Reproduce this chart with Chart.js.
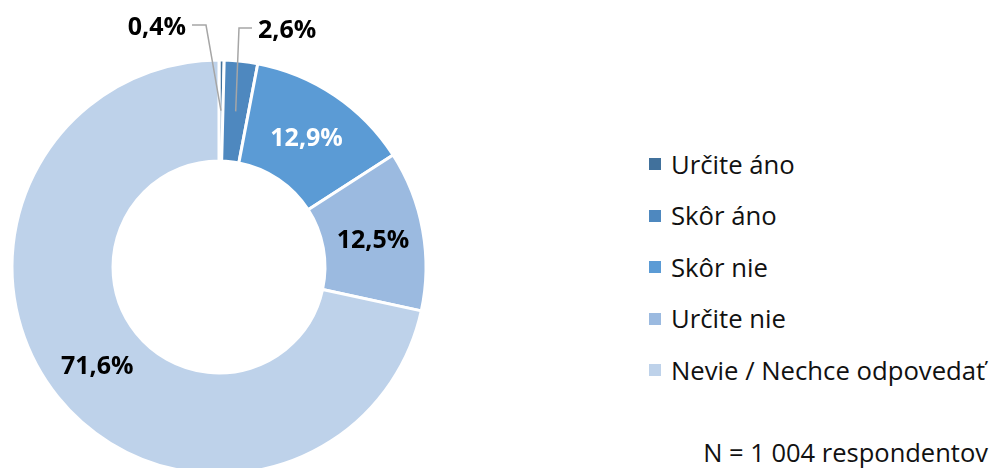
<!DOCTYPE html>
<html>
<head>
<meta charset="utf-8">
<script src="https://cdn.jsdelivr.net/npm/chart.js@4/dist/chart.umd.min.js"></script>
<style>
  html, body { margin: 0; padding: 0; background: #fff; }
  #wrap { position: relative; width: 992px; height: 468px; overflow: hidden; font-family: 'Open Sans', sans-serif; }
  #pie { position: absolute; left: 0; top: 0; }
  .leg-row { position: absolute; left: 649px; height: 34px; display: flex; align-items: center; font-size: 25.7px; color: #111; white-space: nowrap; }
  .leg-box { width: 12px; height: 12px; margin-right: 10px; flex: none; }
  #note { position: absolute; right: 4px; top: 435px; font-size: 25.5px; color: #111; white-space: nowrap; }
</style>
</head>
<body>
<div id="wrap">
  <canvas id="pie" width="438" height="534"></canvas>
  <div id="legend"></div>
  <div id="note">N = 1 004 respondentov</div>
</div>
<script>
// ─── DATA ─────────────────────────────────────────────────────
const categories  = ['Určite áno', 'Skôr áno', 'Skôr nie', 'Určite nie', 'Nevie / Nechce odpovedať'];
const shares      = [0.4, 2.6, 12.9, 12.5, 71.6];
const sliceColors = ['#41719c', '#4e88bf', '#5b9bd5', '#9bbae0', '#bed2ea'];
const labelColors = ['#000', '#000', '#fff', '#000', '#000'];

// labels for the thin slices sit outside, joined by a leader line
const callouts = {
  0: { elbow: [206, 25], end: [192, 25], textX: 186, baseY: 35, align: 'right' },
  1: { elbow: [239, 28], end: [252, 28], textX: 258, baseY: 38, align: 'left' }
};

const LABEL_FONT = 25;
const fmt = v => v.toFixed(1).replace('.', ',') + '%';

// ─── LABEL PLUGIN ─────────────────────────────────────────────
const sliceLabels = {
  id: 'sliceLabels',
  afterDatasetsDraw(chart) {
    const { ctx } = chart;
    const arcs = chart.getDatasetMeta(0).data;
    ctx.save();
    ctx.font = `bold ${LABEL_FONT}px 'Open Sans', sans-serif`;
    ctx.textBaseline = 'alphabetic';
    arcs.forEach((arc, i) => {
      const p = arc.tooltipPosition();
      const c = callouts[i];
      const txt = fmt(shares[i]);
      if (c) {
        ctx.strokeStyle = '#a6a6a6';
        ctx.lineWidth = 1.5;
        ctx.beginPath();
        ctx.moveTo(p.x, p.y);
        ctx.lineTo(c.elbow[0], c.elbow[1]);
        ctx.lineTo(c.end[0], c.end[1]);
        ctx.stroke();
        ctx.fillStyle = '#000';
        ctx.textAlign = c.align;
        ctx.fillText(txt, c.textX, c.baseY);
      } else {
        ctx.fillStyle = labelColors[i];
        ctx.textAlign = 'center';
        ctx.fillText(txt, p.x, p.y + LABEL_FONT * 0.36);
      }
    });
    ctx.restore();
  }
};

// ─── CHART ────────────────────────────────────────────────────
new Chart(document.getElementById('pie'), {
  type: 'doughnut',
  data: {
    labels: categories,
    datasets: [{
      data: shares,
      backgroundColor: sliceColors,
      borderColor: '#ffffff',
      borderWidth: 3
    }]
  },
  options: {
    responsive: false,
    animation: false,
    radius: 207,
    cutout: '51.2%',
    layout: { padding: 0 },
    plugins: { legend: { display: false }, tooltip: { enabled: false } }
  },
  plugins: [sliceLabels]
});

// ─── LEGEND ───────────────────────────────────────────────────
const legend = document.getElementById('legend');
const legendTop = 147, legendStep = 51.6;
categories.forEach((name, i) => {
  const row = document.createElement('div');
  row.className = 'leg-row';
  row.style.top = (legendTop + i * legendStep) + 'px';
  row.innerHTML = `<span class="leg-box" style="background:${sliceColors[i]}"></span><span>${name}</span>`;
  legend.appendChild(row);
});
</script>
</body>
</html>
